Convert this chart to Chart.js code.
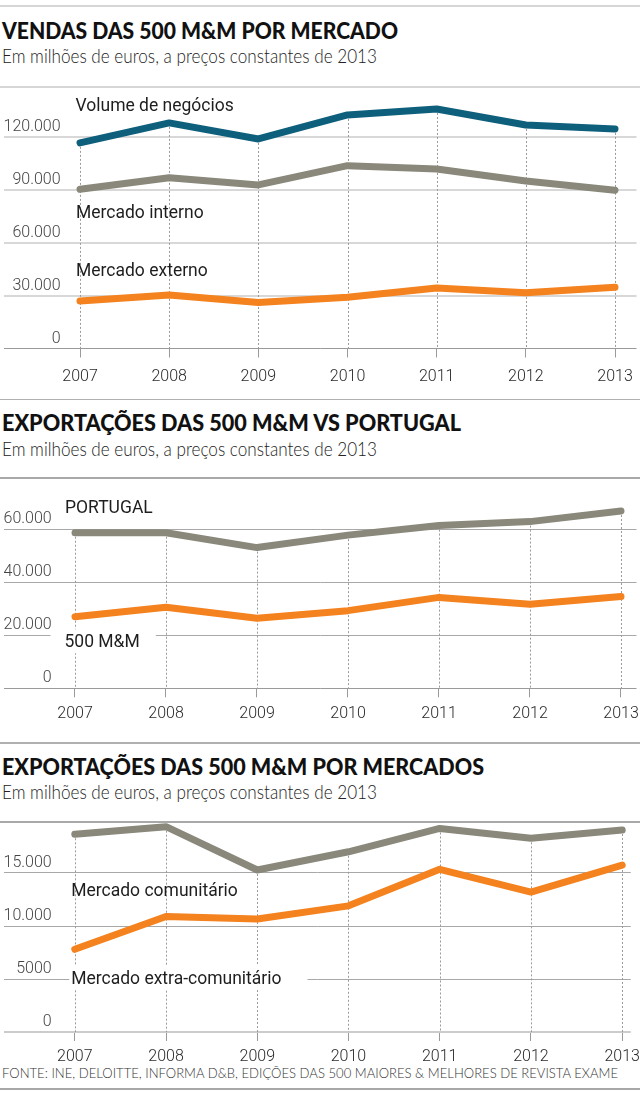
<!DOCTYPE html>
<html lang="pt">
<head>
<meta charset="utf-8">
<title>Vendas e exportações das 500 M&amp;M</title>
<script src="https://cdn.jsdelivr.net/npm/chart.js@4/dist/chart.umd.min.js"></script>
<style>
  html, body { margin:0; padding:0; background:#fff; }
  body { position:relative; width:640px; height:1096px; overflow:hidden; }
  .rule { position:absolute; left:0; width:640px; }
  .txt { position:absolute; left:2px; white-space:nowrap; line-height:1; transform-origin:0 50%; display:inline-block; }
  .title { font-family:Lato, 'Open Sans', sans-serif; font-weight:900; font-size:23px; color:#111; }
  .sub { font-family:Lato, 'Open Sans', sans-serif; font-weight:300; font-size:19px; color:#222; }
  .src { font-family:Lato, 'Open Sans', sans-serif; font-weight:300; font-size:14px; color:#333; }
  .box { position:absolute; left:0; width:640px; }
</style>
</head>
<body>
<div class="rule" style="top:5px;height:2px;background:#d6d6d6"></div>
<span class="txt title" data-w="396" data-cy="31">VENDAS DAS 500 M&amp;M POR MERCADO</span>
<span class="txt sub" data-w="375" data-cy="56.3">Em milhões de euros, a preços constantes de 2013</span>
<div class="rule" style="top:86px;height:2px;background:#d6d6d6"></div>

<div class="rule" style="top:398.5px;height:1.5px;background:#b0b0b0"></div>
<span class="txt title" data-w="459" data-cy="423.4">EXPORTAÇÕES DAS 500 M&amp;M VS PORTUGAL</span>
<span class="txt sub" data-w="375" data-cy="449">Em milhões de euros, a preços constantes de 2013</span>
<div class="rule" style="top:477.3px;height:1.5px;background:#a8a8a8"></div>

<div class="rule" style="top:742px;height:1.5px;background:#b0b0b0"></div>
<span class="txt title" data-w="482" data-cy="767">EXPORTAÇÕES DAS 500 M&amp;M POR MERCADOS</span>
<span class="txt sub" data-w="375" data-cy="792.5">Em milhões de euros, a preços constantes de 2013</span>
<div class="rule" style="top:821.3px;height:1.5px;background:#a8a8a8"></div>

<span class="txt src" data-w="616" data-cy="1073">FONTE: INE, DELOITTE, INFORMA D&amp;B, EDIÇÕES DAS 500 MAIORES &amp; MELHORES DE REVISTA EXAME</span>
<div class="rule" style="top:1088.3px;height:1.5px;background:#a8a8a8"></div>

<script>
// ---------------- DATA ----------------
const years = [2007, 2008, 2009, 2010, 2011, 2012, 2013];

// Chart 1 — Vendas das 500 M&M por mercado
const volumeNegocios = [116400, 127700, 118600, 132200, 135600, 126500, 124300];
const mercadoInterno = [90100, 96700, 92600, 103500, 101600, 94800, 89600];
const mercadoExterno = [26900, 30300, 26100, 29000, 34300, 31500, 34700];
const yTicks1 = [0, 30000, 60000, 90000, 120000];
const yTickLabels1 = ['0', '30.000', '60.000', '90.000', '120.000'];

// Chart 2 — Exportações das 500 M&M vs Portugal
const exportPortugal = [58700, 58700, 53100, 57800, 61400, 62900, 66900];
const export500MM = [27000, 30600, 26400, 29300, 34300, 31700, 34600];
const yTicks2 = [0, 20000, 40000, 60000];
const yTickLabels2 = ['0', '20.000', '40.000', '60.000'];

// Chart 3 — Exportações das 500 M&M por mercados
const mercadoComunitario = [18650, 19370, 15280, 17000, 19200, 18270, 19060];
const mercadoExtraComunitario = [7800, 10900, 10660, 11900, 15350, 13200, 15750];
const yTicks3 = [0, 5000, 10000, 15000];
const yTickLabels3 = ['0', '5000', '10.000', '15.000'];

// ---------------- STYLE ----------------
const BLUE = '#0d5f7b', GRAY = '#8a887b', ORANGE = '#f4821f';

const TICK_FS = 16;
const TICK_FONT = { family: 'Roboto', size: TICK_FS, weight: '300' };
const LABEL_FS = 17.5;
const LABEL_FONT = `${LABEL_FS}px Roboto, 'Open Sans', sans-serif`;
const LABEL_CAP = 0.711 * LABEL_FS;
const X_TICK_LEN = 9;
const X_GLYPH_SHIFT = 3; // empirical: glyph centre sits above the line-box centre

// fit header texts
document.querySelectorAll('.txt').forEach(el => {
  const fs = parseFloat(getComputedStyle(el).fontSize);
  el.style.top = (parseFloat(el.dataset.cy) - 0.527 * fs) + 'px';
  const w = el.getBoundingClientRect().width;
  el.style.transform = `scaleX(${parseFloat(el.dataset.w) / w})`;
});

// ---------------- PLUGINS ----------------
const dropLines = {
  id: 'dropLines',
  beforeDatasetsDraw(chart) {
    const { ctx, chartArea, scales: { x } } = chart;
    ctx.save();
    ctx.strokeStyle = '#9a9a9a';
    ctx.lineWidth = 1;
    ctx.setLineDash([2, 2]);
    chart.data.labels.forEach((yr, i) => {
      let top = Infinity;
      chart.data.datasets.forEach((ds, di) => {
        const el = chart.getDatasetMeta(di).data[i];
        if (el) top = Math.min(top, el.y);
      });
      const px = Math.round(x.getPixelForValue(yr)) + 0.5;
      ctx.beginPath();
      ctx.moveTo(px, top);
      ctx.lineTo(px, chartArea.bottom);
      ctx.stroke();
    });
    ctx.restore();
  }
};

const seriesLabels = {
  id: 'seriesLabels',
  beforeDatasetsDraw(chart, args, opts) {
    const { ctx } = chart;
    ctx.save();
    ctx.font = LABEL_FONT;
    ctx.textAlign = 'left';
    ctx.textBaseline = 'alphabetic';
    (opts.items || []).forEach(it => {
      const pt = chart.getDatasetMeta(it.dataset).data[0];
      const x = pt.x + it.dx;
      const cy = pt.y + it.dy;
      const w = ctx.measureText(it.text).width;
      if (it.bg) {
        ctx.fillStyle = '#fff';
        ctx.fillRect(x - it.bg[0], cy - 12, w + it.bg[0] + it.bg[1], 24);
      }
      ctx.fillStyle = '#1e1e1e';
      ctx.fillText(it.text, x, cy + LABEL_CAP / 2);
    });
    ctx.restore();
  }
};

// ---------------- BUILDER ----------------
function makeChart(cfg) {
  const g = cfg.geo;
  const padTop = g.plotTop - g.canvasTop;
  const plotH = g.axisY - g.plotTop;
  const yMax = plotH / g.pxPerUnit;
  // x labels: centre = axis + tickLen + lineHeight/2 - glyph shift  (padding kept 0)
  const lineH = 2 * (g.xLabelCenter - g.axisY - X_TICK_LEN + X_GLYPH_SHIFT);
  const xAxisH = X_TICK_LEN + lineH;
  const rawH = padTop + plotH + xAxisH;
  const canvasH = Math.ceil(rawH);
  const padBottom = canvasH - rawH;
  const n = years.length;
  const ppy = (g.x1 - g.x0) / (n - 1);

  const box = document.createElement('div');
  box.className = 'box';
  box.style.top = g.canvasTop + 'px';
  box.style.height = canvasH + 'px';
  const canvas = document.createElement('canvas');
  box.appendChild(canvas);
  document.body.appendChild(box);

  const chart = new Chart(canvas, {
    type: 'line',
    data: {
      labels: years,
      datasets: cfg.series.map(s => ({
        label: s.name, data: s.data,
        borderColor: s.color, backgroundColor: s.color,
        borderWidth: 7, borderCapStyle: 'round', borderJoinStyle: 'round',
        pointRadius: 0, pointHoverRadius: 0, tension: 0, fill: false
      }))
    },
    options: {
      responsive: true, maintainAspectRatio: false, animation: false, events: [],
      layout: { padding: { top: padTop, bottom: padBottom, left: 0, right: 0 } },
      plugins: {
        legend: { display: false }, tooltip: { enabled: false },
        seriesLabels: { items: cfg.labels }
      },
      scales: {
        x: {
          type: 'linear', min: years[0] - g.x0 / ppy, max: years[n - 1] + (640 - g.x1) / ppy,
          afterBuildTicks: s => { s.ticks = years.map(v => ({ value: v })); },
          border: { display: false },
          grid: { display: true, drawOnChartArea: false, drawTicks: true, tickLength: X_TICK_LEN, color: '#9a9a9a', lineWidth: 1 },
          ticks: {
            callback: v => String(v),
            font: Object.assign({}, TICK_FONT, { lineHeight: lineH + 'px' }),
            color: '#2a2a2a', padding: 0, maxRotation: 0, autoSkip: false
          }
        },
        y: {
          type: 'linear', min: 0, max: yMax,
          afterBuildTicks: s => { s.ticks = cfg.yTicks.map(v => ({ value: v })); },
          border: { display: false },
          grid: {
            color: c => (c.tick && c.tick.value === 0) ? g.axisColor : g.gridColor,
            lineWidth: c => (c.tick && c.tick.value === 0) ? g.axisWidth : g.gridWidth,
            drawTicks: false
          },
          ticks: {
            mirror: true, crossAlign: 'far', padding: 0, labelOffset: -10,
            font: TICK_FONT, color: '#444',
            callback: v => { const i = cfg.yTicks.indexOf(v); return i >= 0 ? cfg.yTickLabels[i] : ''; }
          }
        }
      }
    },
    plugins: [dropLines, seriesLabels]
  });

  // pin the first and last year to their horizontal positions (compensates label padding)
  for (let k = 0; k < 4; k++) {
    const xs = chart.scales.x;
    const newMin = years[0] - (g.x0 - xs.left) / ppy;
    const newMax = newMin + xs.width / ppy;
    chart.options.scales.x.min = newMin;
    chart.options.scales.x.max = newMax;
    chart.update('none');
  }
  return chart;
}

makeChart({
  geo: { canvasTop: 80, plotTop: 92.4, axisY: 348.5, pxPerUnit: 53 / 30000, x0: 80, x1: 615, xLabelCenter: 373.5,
         gridColor: '#d8d8d8', gridWidth: 2, axisColor: '#9a9a9a', axisWidth: 1 },
  series: [
    { name: 'Volume de negócios', data: volumeNegocios, color: BLUE },
    { name: 'Mercado interno', data: mercadoInterno, color: GRAY },
    { name: 'Mercado externo', data: mercadoExterno, color: ORANGE }
  ],
  yTicks: yTicks1, yTickLabels: yTickLabels1,
  labels: [
    { text: 'Volume de negócios', dataset: 0, dx: -4.5, dy: -37.7 },
    { text: 'Mercado interno', dataset: 1, dx: -4, dy: 22.7 },
    { text: 'Mercado externo', dataset: 2, dx: -4, dy: -31.4 }
  ]
});

makeChart({
  geo: { canvasTop: 483, plotTop: 503, axisY: 688.3, pxPerUnit: 53 / 20000, x0: 75, x1: 621, xLabelCenter: 711,
         gridColor: '#a8a8a8', gridWidth: 1, axisColor: '#9a9a9a', axisWidth: 1 },
  series: [
    { name: 'PORTUGAL', data: exportPortugal, color: GRAY },
    { name: '500 M&M', data: export500MM, color: ORANGE }
  ],
  yTicks: yTicks2, yTickLabels: yTickLabels2,
  labels: [
    { text: 'PORTUGAL', dataset: 0, dx: -10, dy: -25.7 },
    { text: '500 M&M', dataset: 1, dx: -10.5, dy: 24.5, bg: [14, 16] }
  ]
});

makeChart({
  geo: { canvasTop: 811, plotTop: 823, axisY: 1032, pxPerUnit: 53 / 5000, x0: 75, x1: 624, xLabelCenter: 1053.5,
         gridColor: '#a8a8a8', gridWidth: 1, axisColor: '#cccccc', axisWidth: 2 },
  series: [
    { name: 'Mercado comunitário', data: mercadoComunitario, color: GRAY },
    { name: 'Mercado extra-comunitário', data: mercadoExtraComunitario, color: ORANGE }
  ],
  yTicks: yTicks3, yTickLabels: yTickLabels3,
  labels: [
    { text: 'Mercado comunitário', dataset: 0, dx: -3.6, dy: 55.7 },
    { text: 'Mercado extra-comunitário', dataset: 1, dx: -3.6, dy: 28.2, bg: [2, 26] }
  ]
});
</script>
</body>
</html>
